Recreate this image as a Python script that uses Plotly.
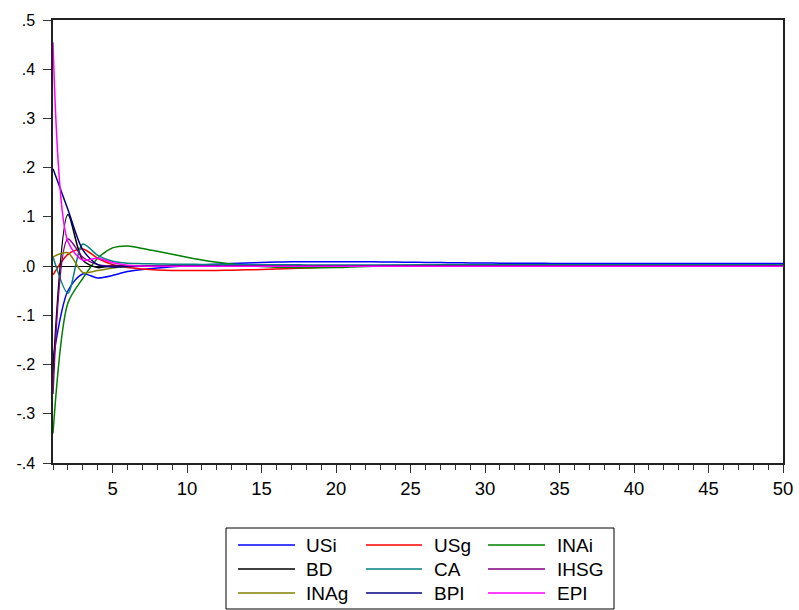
import plotly.graph_objects as go

periods = list(range(1, 51))

def tail(vals, n=50, last=None):
    vals = list(vals)
    fill = vals[-1] if last is None else last
    return vals + [fill] * (n - len(vals))

USi = tail([-0.19, -0.050, -0.016, -0.024, -0.019, -0.011, -0.007, -0.004, -0.0015, 0.0005,
            0.0025, 0.004, 0.0055, 0.0065, 0.0075, 0.0082, 0.0087, 0.009, 0.009, 0.009,
            0.009, 0.0088, 0.0085, 0.0082, 0.0078, 0.0075, 0.0072, 0.0068, 0.0065, 0.0062,
            0.006, 0.0058, 0.0057, 0.0056, 0.0055])
USg = tail([-0.018, 0.024, 0.035, 0.016, 0.003, -0.003, -0.006, -0.008, -0.009, -0.009,
            -0.009, -0.0088, -0.0082, -0.0075, -0.0068, -0.006, -0.005, -0.004, -0.0025, -0.0012,
            -0.0003, 0.0005, 0.001, 0.0012, 0.0013])
INAi = tail([-0.34, -0.075, -0.025, 0.016, 0.037, 0.041, 0.036, 0.030, 0.024, 0.018,
             0.0125, 0.008, 0.0045, 0.0015, -0.0008, -0.0022, -0.003, -0.0032, -0.0032, -0.003,
             -0.002, -0.001, 0.0, 0.001, 0.0018, 0.0023, 0.0026, 0.0028])
BD = tail([-0.22, 0.105, 0.012, -0.003, 0.001, 0.0005, 0.0])
CA = tail([0.019, -0.055, 0.045, 0.022, 0.010, 0.006, 0.005, 0.0045, 0.004, 0.0037,
           0.0035, 0.0033, 0.0031, 0.003, 0.0028, 0.0027, 0.0026, 0.0025, 0.0024, 0.0023, 0.0022])
IHSG = tail([-0.26, 0.055, 0.018, 0.003, 0.0, -0.0005, -0.0005, -0.0003])
INAg = tail([0.019, 0.027, -0.013, -0.009, -0.004, -0.001, 0.0, 0.0])
BPI = tail([0.198, 0.115, 0.033, 0.003, -0.002, -0.001, 0.0, 0.0])
EPI = tail([0.455, 0.050, 0.012, 0.016, 0.007, 0.002, 0.0, -0.0005])

series_names = ["USi", "USg", "INAi", "BD", "CA", "IHSG", "INAg", "BPI", "EPI"]
series_values = [USi, USg, INAi, BD, CA, IHSG, INAg, BPI, EPI]
series_colors = ["#0000FF", "#FF0000", "#008000", "#000000", "#008080",
                 "#800080", "#808000", "#000080", "#FF00FF"]

y_tickvals = [0.5, 0.4, 0.3, 0.2, 0.1, 0.0, -0.1, -0.2, -0.3, -0.4]
y_ticktext = [".5", ".4", ".3", ".2", ".1", ".0", "-.1", "-.2", "-.3", "-.4"]
x_tickvals = [5, 10, 15, 20, 25, 30, 35, 40, 45, 50]

W, H = 799, 610
ML, MR, MT, MB = 53, 16, 20, 147
PW, PH = W - ML - MR, H - MT - MB

fig = go.Figure()
for name, vals, col in zip(series_names, series_values, series_colors):
    fig.add_trace(go.Scatter(x=periods, y=vals, mode="lines", name=name,
                             line=dict(color=col, width=1.5, shape="spline", smoothing=0.8),
                             showlegend=False))

font_main = "Liberation Sans, Arial, sans-serif"

fig.update_layout(
    width=W, height=H,
    margin=dict(l=ML, r=MR, t=MT, b=MB, pad=0),
    paper_bgcolor="white", plot_bgcolor="white",
    font=dict(family=font_main, size=16, color="black"),
    xaxis=dict(range=[1, 50], tickvals=x_tickvals, ticks="outside", ticklen=8,
               tickwidth=1, tickcolor="#333", showgrid=False, zeroline=False,
               showline=True, linecolor="#222", linewidth=1.5, mirror=True,
               automargin=False, ticklabelstandoff=0,
               minor=dict(ticks="outside", ticklen=5, tickcolor="#333", dtick=1, tick0=1),
               tickfont=dict(family=font_main, size=18.5)),
    yaxis=dict(range=[-0.4, 0.5], tickvals=y_tickvals, ticktext=y_ticktext,
               ticks="outside", ticklen=8, tickwidth=1, tickcolor="#333",
               showgrid=False, zeroline=True, zerolinecolor="black", zerolinewidth=1,
               showline=True, linecolor="#222", linewidth=1.5, mirror=True,
               automargin=False, ticklabelstandoff=5,
               tickfont=dict(size=16)),
)

# custom legend box (3 columns x 3 rows), positioned in pixels
def px_x(px):
    return (px - ML) / PW

def px_y(py):
    return (H - MB - py) / PH

box = (226, 528, 614, 609)
fig.add_shape(type="rect", xref="paper", yref="paper",
              x0=px_x(box[0]), x1=px_x(box[2]), y0=px_y(box[3]), y1=px_y(box[1]),
              line=dict(color="black", width=1), fillcolor="white")
col_line = [(238, 295), (366, 422), (488, 545)]
col_text = [304, 432, 555]
row_y = [545, 569, 593]
for i, (name, col) in enumerate(zip(series_names, series_colors)):
    r, c = divmod(i, 3)
    fig.add_shape(type="line", xref="paper", yref="paper",
                  x0=px_x(col_line[c][0]), x1=px_x(col_line[c][1]),
                  y0=px_y(row_y[r]), y1=px_y(row_y[r]),
                  line=dict(color=col, width=1.5))
    fig.add_annotation(xref="paper", yref="paper", x=px_x(col_text[c]), y=px_y(row_y[r]),
                       text=name, showarrow=False, xanchor="left", yanchor="middle",
                       font=dict(size=19, family=font_main, color="black"))

fig.write_html("out.html")
